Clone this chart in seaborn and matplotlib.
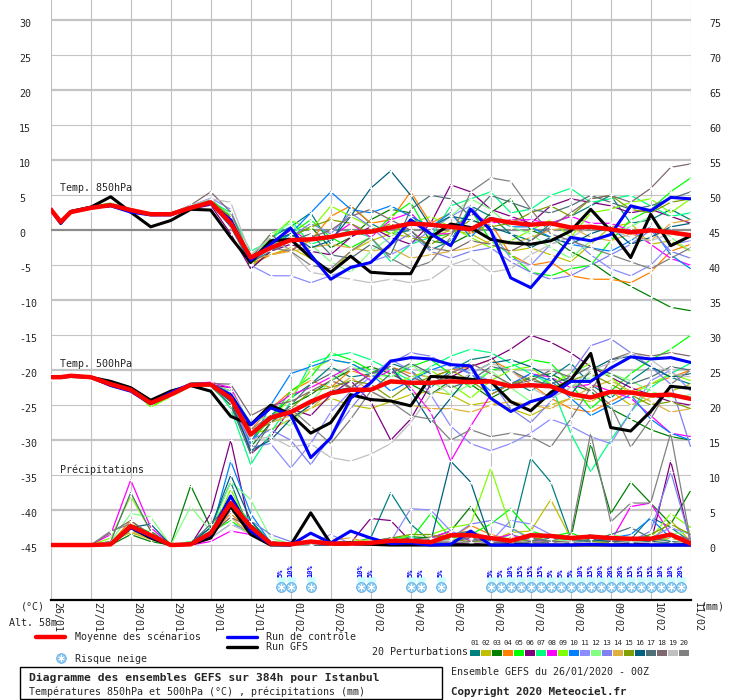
import numpy as np
import pandas as pd
import matplotlib
matplotlib.use("Agg")
import matplotlib.pyplot as plt
import matplotlib.transforms as mtransforms
from matplotlib.patches import Rectangle
from matplotlib.lines import Line2D
import seaborn as sns

# forecast hours (run 26/01/2020 00Z)
hours = [0, 6, 12, 24, 36, 48, 60, 72, 84, 96, 108, 120, 132, 144, 156, 168, 180,
         192, 204, 216, 228, 240, 252, 264, 276, 288, 300, 312, 324, 336, 348, 360, 372, 384]
day_hours = [0, 24, 48, 72, 96, 120, 144, 168, 192, 216, 240, 264, 288, 312, 336, 360, 384]
days = ["26/01", "27/01", "28/01", "29/01", "30/01", "31/01", "01/02", "02/02", "03/02",
        "04/02", "05/02", "06/02", "07/02", "08/02", "09/02", "10/02", "11/02"]

member_ids = ["01", "02", "03", "04", "05", "06", "07", "08", "09", "10",
              "11", "12", "13", "14", "15", "16", "17", "18", "19", "20"]
member_colors = ["#008080", "#c0c000", "#008000", "#ff8000", "#00ff00", "#800080", "#00ff80",
                 "#ff00ff", "#80ff00", "#0080ff", "#8c8cff", "#80ff80", "#8080f0", "#e0b040",
                 "#80a000", "#006080", "#507078", "#806870", "#c0c0c0", "#808080"]

# ---- 850 hPa temperature (C)
mean_850 = [3.0, 1.2, 2.6, 3.2, 3.6, 2.9, 2.3, 2.3, 3.2, 4.0, 1.0,
            -3.9, -2.5, -1.4, -1.3, -0.95, -0.4, -0.2, 0.4, 0.95, 0.8, 0.5, 0.15,
            1.6, 1.1, 0.8, 1.0, 0.4, 0.5, 0.15, -0.3, 0.0, -0.3, -0.7]
ctrl_850 = [3.0, 1.0, 2.6, 3.3, 3.5, 2.6, 2.2, 2.2, 3.3, 3.8, 1.5,
            -4.3, -2.0, 0.3, -3.5, -7.0, -5.3, -4.6, -2.0, 1.5, -0.5, -2.2, 3.0,
            0.0, -6.8, -8.2, -4.9, -1.0, -1.5, -0.6, 3.5, 2.8, 4.7, 4.5]
gfs_850 = [3.0, 1.0, 2.7, 3.3, 4.8, 2.6, 0.5, 1.4, 3.0, 2.9, -1.0,
           -4.6, -1.5, -1.3, -3.9, -6.0, -3.7, -6.0, -6.2, -6.2, -1.0, 0.9, 0.4,
           -1.3, -1.8, -2.0, -1.5, -0.1, 3.0, -0.1, -3.9, 2.3, -2.2, -0.8]
t850_01 = [2.8, 1.1, 2.5, 3.4, 3.5, 2.6, 2.2, 2.5, 3.4, 4.2, 1.8, -4.5, -1.0, 0.5, 2.5, -2.0, 3.5, 1.0, -0.5, 0.0, -2.8, -1.5, 3.5, 2.0, -0.5, -1.5, 1.0, 2.0, 3.5, 5.0, 1.0, 1.5, 3.0, 1.5]
t850_02 = [3.2, 1.3, 2.7, 3.0, 3.8, 2.8, 2.4, 2.4, 3.0, 3.9, 0.5, -5.0, -3.5, -2.5, -4.0, -6.0, -3.0, -1.5, -0.5, -1.0, -1.0, 0.0, -0.5, -2.0, -3.0, -2.5, -3.5, -4.5, -2.0, 0.5, 1.0, -2.0, -1.5, -3.0]
t850_03 = [3.0, 1.0, 2.4, 3.3, 3.4, 2.7, 2.1, 2.3, 3.3, 4.4, 2.0, -5.5, -3.0, -1.0, 0.5, -2.5, -1.0, 1.5, 3.0, 2.5, -1.5, -2.0, -0.5, 2.5, 4.5, 0.0, -1.0, -3.0, -4.5, -6.5, -8.0, -9.5, -11.0, -11.5]
t850_04 = [2.9, 1.2, 2.6, 3.1, 3.7, 3.0, 2.3, 2.2, 3.2, 4.1, 1.2, -4.8, -3.5, -2.8, -1.5, 2.0, 3.5, 1.0, 1.5, 5.5, 1.0, 2.5, -0.5, 1.0, -3.5, -5.0, -4.5, -6.5, -7.0, -7.0, -7.5, -6.0, -3.0, -2.0]
t850_05 = [3.1, 1.4, 2.8, 3.4, 3.9, 3.0, 2.2, 2.4, 3.5, 4.5, 1.5, -5.0, -2.0, -0.5, 1.5, -1.0, -2.5, -1.0, 2.0, 4.0, -1.0, -0.5, 3.0, -1.5, -3.5, -6.0, -6.5, -5.5, -5.0, -1.5, 1.5, 3.0, 5.5, 7.5]
t850_06 = [2.9, 1.1, 2.5, 3.2, 3.4, 2.8, 2.5, 2.3, 3.0, 3.6, -0.5, -5.5, -3.0, -2.0, -3.0, -3.5, -1.0, 0.5, -1.0, -2.0, 1.0, 6.5, 5.5, 3.0, 2.0, 1.0, 3.5, 4.5, 4.0, 3.5, 2.5, 3.0, 2.0, 1.0]
t850_07 = [3.0, 1.2, 2.6, 3.3, 3.6, 3.1, 2.4, 2.5, 3.4, 4.2, 2.5, -3.0, -1.5, 1.5, -2.0, -1.0, 0.0, -1.0, -4.5, -2.0, -1.0, 3.5, 4.5, 5.5, 2.5, 3.0, 5.0, 6.0, 4.0, 4.5, 5.0, 3.5, 2.0, 2.5]
t850_08 = [3.1, 1.3, 2.7, 3.4, 3.5, 2.9, 2.3, 2.4, 3.1, 4.3, 0.8, -4.5, -2.0, 0.0, -1.5, -1.0, 1.0, -1.0, 1.5, 2.5, -0.5, -0.5, 2.5, 1.0, 1.5, 1.5, 1.0, 2.0, 1.0, 1.0, 0.0, -2.0, -4.0, -5.0]
t850_09 = [3.2, 1.3, 2.7, 3.1, 3.7, 2.8, 2.2, 2.4, 3.3, 4.0, 1.3, -4.6, -1.0, 1.5, 0.0, 3.5, 2.0, 0.5, -0.5, 1.0, 2.0, 0.5, -1.0, -2.5, -1.5, 0.0, 1.5, -1.0, 2.5, 3.0, 4.0, 4.5, 2.5, 4.5]
t850_10 = [2.8, 1.0, 2.5, 3.2, 3.5, 2.7, 2.3, 2.2, 3.2, 3.8, 0.5, -4.7, -2.5, -0.5, 2.5, 5.5, 3.0, 2.5, 3.5, 2.0, 0.5, 2.5, -1.0, 2.0, 0.5, 0.5, -1.0, -2.0, -2.5, -3.0, -1.5, 0.5, -3.5, -5.5]
t850_11 = [3.0, 1.2, 2.6, 3.3, 3.6, 2.9, 2.4, 2.3, 3.5, 4.6, 3.0, -5.0, -6.5, -6.5, -7.5, -6.5, -5.5, -4.5, -3.5, -2.0, 0.0, 2.0, 3.5, 0.0, -4.0, -5.0, -2.0, -1.0, -3.5, -5.5, -6.5, -5.0, -2.0, -1.5]
t850_12 = [3.1, 1.2, 2.6, 3.2, 3.6, 2.9, 2.3, 2.4, 3.2, 4.1, 2.2, -3.8, -0.5, 1.0, -2.0, -4.5, -6.0, -3.0, -1.0, 1.5, 0.5, 2.0, 4.5, 3.0, 0.5, -0.5, -2.5, -4.0, -1.5, -0.5, 0.5, 2.0, -1.0, -3.0]
t850_13 = [2.9, 1.1, 2.5, 3.1, 3.5, 2.8, 2.2, 2.3, 3.1, 3.9, 0.8, -4.4, -2.5, -1.0, 1.0, -0.5, 2.5, 0.5, -2.0, -0.5, -3.0, -4.0, -3.0, -2.5, -4.5, -6.0, -7.0, -6.5, -5.0, -3.5, -2.0, 0.0, -3.0, -4.0]
t850_14 = [3.0, 1.3, 2.7, 3.3, 3.7, 3.0, 2.4, 2.3, 3.3, 4.2, 1.6, -4.2, -3.5, -3.0, -2.5, -2.0, -2.5, -3.0, -2.5, -4.0, -3.5, -3.0, -2.5, -1.5, -2.0, -1.0, 0.0, 0.5, -1.0, -1.5, -0.5, -1.5, 1.0, 1.5]
t850_15 = [3.1, 1.2, 2.6, 3.2, 3.6, 2.9, 2.3, 2.4, 3.4, 4.3, 1.9, -4.8, -2.0, -1.0, 0.5, 1.5, 1.0, -0.5, 1.0, -1.0, -2.0, -0.5, 1.5, 0.5, 1.0, 2.5, 3.5, 2.0, 4.5, 5.0, 3.0, 2.5, 4.0, 4.5]
t850_16 = [3.0, 1.1, 2.5, 3.3, 3.5, 2.7, 2.2, 2.4, 3.2, 4.0, 1.0, -4.0, -1.5, -0.5, -2.5, -1.5, 2.0, 6.0, 8.5, 5.0, 0.5, 2.0, 1.5, 0.5, -0.5, -2.5, -1.0, -2.0, -0.5, 0.5, -2.0, -1.0, 0.5, 1.0]
t850_17 = [2.9, 1.2, 2.6, 3.2, 3.6, 2.8, 2.3, 2.3, 3.3, 4.1, 1.1, -4.6, -3.0, -1.5, -0.5, -3.5, -4.0, -2.0, -3.5, 3.0, 5.0, 4.5, 2.0, 5.0, 4.0, 3.0, 2.5, 3.5, 5.0, 4.0, 3.0, 3.5, 4.5, 5.5]
t850_18 = [3.0, 1.3, 2.7, 3.2, 3.7, 3.0, 2.4, 2.4, 3.6, 5.5, 2.6, -4.0, -0.5, -3.0, -1.0, 0.0, 2.0, 3.0, 1.5, 0.0, -2.5, -3.0, -1.5, -2.0, -3.0, -1.5, 0.5, 2.5, 4.5, 5.0, 4.0, 6.0, 9.0, 9.5]
t850_19 = [3.1, 1.2, 2.6, 3.1, 3.6, 2.9, 2.3, 2.3, 3.6, 4.5, 4.0, -3.5, -1.0, -3.0, -6.0, -6.5, -7.0, -7.5, -7.0, -7.5, -7.0, -5.0, -4.0, -6.0, -5.5, -3.5, -2.0, -1.0, 0.5, 0.0, -1.0, -1.5, -0.5, -1.0]
t850_20 = [3.0, 1.2, 2.6, 3.3, 3.5, 2.8, 2.3, 2.3, 3.2, 4.0, 1.2, -4.4, -2.5, -3.0, -5.0, -5.5, -3.0, -1.0, -4.0, -5.5, -4.5, -1.0, 5.5, 7.5, 7.0, 3.0, -0.5, -1.5, -2.5, -3.5, -4.5, -5.5, -4.0, -2.5]

# ---- 500 hPa temperature (C)
mean_500 = [-21.0, -21.0, -20.8, -21.0, -22.0, -22.8, -24.7, -23.5, -22.1, -22.05, -24.0,
            -29.2, -26.8, -26.0, -24.5, -23.3, -22.8, -22.8, -21.6, -21.8, -21.8, -21.6, -21.7,
            -21.6, -22.3, -22.15, -22.3, -23.4, -23.9, -23.1, -23.2, -23.6, -23.5, -24.1]
ctrl_500 = [-21.0, -21.0, -20.8, -21.0, -22.2, -23.0, -24.8, -23.2, -22.0, -22.0, -23.5,
            -27.8, -25.4, -26.4, -32.5, -29.7, -24.0, -21.8, -18.7, -18.2, -18.4, -19.2, -19.4,
            -24.0, -25.9, -24.5, -23.7, -21.6, -21.6, -19.7, -18.1, -18.4, -18.2, -18.9]
gfs_500 = [-21.0, -21.0, -20.9, -21.0, -21.6, -22.5, -24.3, -23.0, -22.2, -23.0, -26.6,
           -27.8, -25.0, -26.3, -29.0, -27.5, -23.5, -24.2, -24.4, -25.1, -20.9, -21.0, -21.3,
           -21.6, -24.5, -25.8, -23.2, -21.4, -17.6, -28.2, -28.7, -25.9, -22.3, -22.6]
t500_01 = [-21.2, -20.9, -20.7, -21.1, -22.3, -23.0, -24.5, -23.4, -22.0, -22.2, -24.5, -30.5, -26.5, -24.0, -22.0, -19.5, -21.0, -20.5, -19.0, -20.0, -22.5, -20.0, -18.5, -18.0, -21.5, -23.0, -21.0, -19.0, -22.0, -24.0, -21.5, -19.5, -21.0, -22.0]
t500_02 = [-21.0, -21.1, -20.9, -21.0, -21.8, -22.6, -24.9, -23.6, -22.2, -22.0, -23.5, -29.0, -28.5, -27.0, -25.5, -24.0, -25.0, -25.5, -24.5, -23.5, -23.0, -23.5, -25.0, -24.5, -25.5, -26.5, -25.0, -24.0, -24.5, -23.0, -25.0, -24.0, -23.0, -22.0]
t500_03 = [-21.1, -20.9, -20.8, -21.2, -22.1, -22.9, -24.6, -23.3, -22.1, -22.3, -25.0, -31.0, -27.5, -25.0, -23.5, -21.5, -20.0, -19.5, -20.5, -22.0, -23.5, -21.5, -22.0, -24.0, -22.5, -21.0, -20.5, -22.0, -23.0, -25.5, -27.0, -28.5, -29.5, -30.0]
t500_04 = [-20.9, -21.0, -20.7, -20.9, -21.9, -22.7, -24.8, -23.5, -22.0, -21.9, -23.0, -28.5, -25.5, -23.0, -21.5, -22.5, -20.0, -21.0, -19.5, -20.5, -21.0, -20.0, -19.5, -18.5, -20.0, -22.0, -24.0, -25.5, -26.0, -24.5, -23.0, -22.0, -21.0, -20.0]
t500_05 = [-21.0, -21.0, -20.8, -21.0, -22.1, -22.8, -25.2, -23.7, -21.8, -21.8, -24.0, -30.0, -27.0, -23.0, -21.0, -17.5, -18.5, -20.0, -21.0, -19.5, -18.5, -20.5, -22.5, -20.0, -19.5, -18.5, -19.0, -22.0, -25.5, -23.0, -20.5, -18.5, -17.0, -15.0]
t500_06 = [-21.1, -21.0, -20.8, -21.1, -22.0, -22.9, -24.7, -23.5, -22.2, -22.1, -22.5, -32.0, -29.5, -25.5, -26.5, -23.5, -21.5, -24.5, -30.0, -27.0, -22.0, -21.0, -19.5, -18.5, -17.0, -15.0, -16.0, -17.5, -19.5, -21.0, -22.5, -23.5, -24.5, -25.0]
t500_07 = [-20.9, -21.0, -20.7, -21.0, -21.9, -22.7, -24.6, -23.4, -21.9, -21.8, -25.5, -33.5, -29.0, -24.5, -19.0, -18.0, -17.5, -18.5, -20.0, -21.5, -19.5, -18.0, -17.0, -17.5, -19.0, -20.5, -22.0, -29.0, -34.5, -30.0, -26.0, -22.5, -20.5, -19.0]
t500_08 = [-21.0, -21.1, -20.9, -21.0, -22.0, -22.8, -24.6, -23.6, -22.0, -21.7, -22.5, -28.0, -25.5, -23.5, -22.5, -21.0, -19.5, -21.5, -20.0, -22.5, -26.0, -33.0, -28.0, -23.5, -22.0, -20.5, -21.0, -22.5, -22.0, -23.0, -24.0, -26.5, -29.0, -29.5]
t500_09 = [-21.1, -21.0, -20.9, -21.1, -22.1, -22.5, -25.3, -23.8, -22.3, -22.2, -24.0, -29.5, -27.0, -24.0, -20.0, -18.5, -19.0, -20.5, -22.0, -21.0, -20.0, -22.0, -24.0, -21.5, -20.0, -19.5, -22.0, -20.5, -19.0, -21.0, -23.5, -22.0, -20.5, -21.5]
t500_10 = [-21.0, -20.9, -20.8, -21.0, -22.2, -23.1, -24.9, -23.6, -22.1, -22.0, -23.0, -30.5, -25.0, -20.5, -19.5, -18.5, -19.0, -20.5, -23.0, -21.5, -20.0, -19.0, -20.5, -23.0, -22.0, -20.5, -21.5, -24.0, -26.5, -25.0, -23.5, -27.0, -29.0, -30.0]
t500_11 = [-21.0, -21.0, -20.8, -21.0, -21.9, -22.7, -24.5, -23.4, -22.1, -22.0, -24.0, -31.0, -30.5, -34.0, -30.5, -26.0, -23.0, -21.0, -18.5, -20.0, -23.5, -28.0, -30.5, -31.5, -30.5, -29.0, -27.0, -28.0, -29.5, -30.5, -26.0, -21.5, -20.0, -23.0]
t500_12 = [-21.1, -21.0, -20.8, -21.0, -22.0, -22.8, -24.7, -23.5, -22.1, -22.0, -23.0, -27.5, -26.5, -28.0, -24.5, -21.5, -19.5, -20.5, -21.0, -19.0, -21.5, -23.5, -22.0, -20.0, -22.5, -24.5, -24.0, -22.5, -21.0, -20.5, -21.5, -23.0, -24.0, -23.5]
t500_13 = [-20.9, -21.0, -20.8, -21.0, -22.0, -22.8, -24.8, -23.4, -22.0, -22.0, -24.5, -30.0, -28.5, -30.0, -33.5, -29.5, -25.5, -22.0, -19.0, -17.5, -18.0, -19.5, -20.5, -21.5, -25.5, -27.5, -24.5, -20.5, -16.5, -15.5, -17.5, -19.5, -22.0, -31.0]
t500_14 = [-21.0, -21.0, -20.8, -21.0, -22.0, -22.8, -24.7, -23.5, -22.0, -22.0, -23.5, -28.5, -27.5, -26.5, -25.5, -23.0, -21.0, -23.0, -24.5, -25.0, -25.5, -25.5, -26.0, -25.0, -24.5, -25.0, -25.5, -24.0, -22.5, -21.5, -23.0, -24.5, -26.0, -25.5]
t500_15 = [-21.0, -21.0, -20.8, -21.0, -22.1, -22.9, -24.8, -23.6, -22.1, -22.1, -24.0, -29.0, -27.5, -25.5, -23.0, -22.5, -21.5, -22.0, -24.0, -22.0, -21.0, -20.0, -21.5, -23.5, -22.0, -21.0, -22.5, -21.5, -20.5, -22.0, -23.5, -25.0, -24.5, -25.5]
t500_16 = [-21.0, -21.0, -20.8, -21.0, -22.2, -23.0, -24.5, -23.3, -22.0, -22.0, -24.5, -31.5, -30.0, -27.0, -25.0, -23.0, -22.5, -20.5, -19.5, -23.0, -27.5, -24.0, -20.5, -19.0, -18.5, -19.5, -21.0, -23.5, -20.0, -18.5, -18.0, -19.5, -21.0, -20.5]
t500_17 = [-21.0, -21.0, -20.8, -21.0, -22.0, -22.8, -24.6, -23.5, -22.0, -22.1, -25.0, -32.0, -27.5, -25.0, -22.0, -20.5, -22.5, -23.0, -20.5, -19.0, -20.5, -22.5, -21.5, -19.5, -20.0, -21.5, -22.0, -21.0, -19.5, -20.5, -22.0, -21.0, -19.5, -20.0]
t500_18 = [-21.0, -21.0, -20.8, -21.0, -22.0, -22.8, -24.7, -23.5, -22.0, -21.9, -22.0, -26.5, -25.0, -24.5, -23.0, -21.5, -22.5, -20.5, -19.5, -21.0, -22.0, -20.5, -19.0, -20.5, -22.0, -21.5, -20.0, -21.0, -23.0, -18.5, -17.5, -18.0, -17.5, -18.0]
t500_19 = [-21.0, -21.0, -20.8, -21.0, -22.0, -22.8, -24.7, -23.5, -22.0, -22.0, -24.0, -30.0, -29.5, -31.0, -30.5, -32.5, -33.0, -32.0, -30.5, -27.5, -23.5, -22.0, -20.5, -19.0, -20.0, -22.5, -24.0, -22.5, -20.0, -19.0, -17.5, -18.5, -20.5, -21.0]
t500_20 = [-21.0, -21.0, -20.8, -21.0, -22.0, -22.8, -24.6, -23.5, -22.0, -22.0, -23.5, -28.5, -26.5, -25.5, -28.0, -30.5, -27.0, -23.0, -24.5, -26.5, -27.0, -30.0, -28.5, -29.5, -29.0, -29.5, -31.0, -27.0, -22.5, -25.0, -31.0, -27.0, -22.0, -20.0]

# ---- precipitation (mm)
mean_rr = [0, 0, 0, 0, 0.1, 2.7, 1.4, 0, 0.1, 1.7, 6.0,
           2.6, 0.2, 0.1, 0.5, 0.2, 0.2, 0.3, 0.6, 0.6, 0.4, 1.4, 1.4,
           1.0, 0.6, 1.4, 1.3, 1.0, 1.2, 1.0, 0.9, 0.9, 1.5, 0.2]
ctrl_rr = [0, 0, 0, 0, 0.1, 2.5, 1.2, 0, 0.1, 1.5, 7.0,
           2.0, 0.1, 0, 1.7, 0.3, 2.0, 1.0, 0.2, 0.3, 0, 0.1, 2.0,
           0, 0, 0, 0, 0, 0.1, 0, 0, 0, 0, 0]
gfs_rr = [0, 0, 0, 0, 0.1, 2.5, 1.0, 0, 0.1, 1.0, 5.5,
          1.5, 0, 0, 4.6, 0.2, 0.3, 0.1, 0, 0, 0, 0, 0,
          0, 0, 0, 0, 0, 0, 0, 0, 0, 0, 0]
rr_01 = [0, 0, 0, 0, 0.2, 2.0, 1.5, 0, 0.3, 2.5, 9.0, 1.5, 0, 0, 0.2, 0.5, 0.3, 1.0, 7.5, 3.0, 0.5, 0.3, 0.2, 0.5, 0.8, 12.4, 9.0, 1.0, 0.5, 0.3, 0.8, 4.0, 2.5, 0.5]
rr_02 = [0, 0, 0, 0, 0.5, 1.8, 0.8, 0, 0, 1.0, 5.0, 2.5, 0.2, 0, 0, 0.3, 0.5, 0, 0.2, 0.8, 1.2, 1.5, 1.0, 0.5, 1.8, 2.0, 6.5, 1.0, 0.5, 0.3, 0.2, 0.5, 3.5, 0.5]
rr_03 = [0, 0, 0, 0, 0, 1.5, 0.5, 0, 8.5, 2.5, 7.0, 3.0, 0.5, 0, 0, 0.2, 0, 0, 0.5, 1.2, 1.0, 2.0, 5.5, 1.0, 0.5, 0.5, 1.5, 0.8, 14.5, 4.5, 9.0, 6.0, 3.0, 7.8]
rr_04 = [0, 0, 0, 0, 0.3, 3.5, 1.2, 0, 0.2, 1.5, 4.5, 2.0, 0.3, 0, 0.5, 0, 0, 0, 0.1, 0.3, 0.5, 1.0, 2.8, 1.5, 0.8, 1.2, 0.5, 0.3, 0.2, 0.5, 0.3, 0.2, 0, 0]
rr_05 = [0, 0, 0, 0, 0.4, 3.0, 1.8, 0, 0.3, 1.8, 3.5, 1.5, 0.5, 0.2, 0, 0, 0, 0.5, 0.3, 0.8, 4.5, 1.0, 1.5, 3.0, 5.2, 2.0, 1.2, 1.8, 0.5, 0.3, 0.2, 0.5, 1.0, 0.4]
rr_06 = [0, 0, 0, 0, 0.2, 2.5, 1.0, 0, 0, 4.5, 15.0, 2.0, 0.2, 0, 0, 0.5, 0.3, 3.8, 3.5, 0.5, 0, 0.2, 0.3, 0, 0.2, 0.3, 0.5, 0.5, 0.2, 0, 0.3, 0.2, 12.0, 0.3]
rr_07 = [0, 0, 0, 0, 0.3, 2.2, 1.0, 0, 0.5, 2.0, 6.0, 3.5, 0.4, 0, 0, 0.2, 0, 0.5, 1.0, 1.2, 0.5, 0.8, 1.0, 0.5, 1.5, 0.8, 0.5, 0.3, 0.2, 0.5, 0.8, 1.5, 0.5, 0.2]
rr_08 = [0, 0, 0, 0, 1.5, 9.3, 2.5, 0, 0, 0.5, 2.0, 1.5, 0, 0, 0, 0, 0.2, 0, 0, 0.5, 1.0, 2.0, 0.5, 0.8, 1.5, 0.5, 0.3, 0.5, 1.0, 0.5, 5.5, 6.0, 1.5, 0.8]
rr_09 = [0, 0, 0, 0, 1.0, 7.0, 2.0, 0, 0.4, 1.2, 8.0, 2.0, 0.3, 0, 0.3, 0, 0.5, 0.8, 0.3, 1.5, 1.5, 2.5, 3.0, 11.0, 2.5, 1.0, 0.5, 1.0, 0.8, 0.5, 0.3, 1.0, 4.5, 2.5]
rr_10 = [0, 0, 0, 0, 0.2, 2.8, 1.5, 0, 0, 1.5, 12.0, 4.5, 0.3, 0, 0, 0.4, 0.2, 0, 0.5, 0.3, 0.5, 1.5, 0.8, 0.3, 0.5, 1.0, 0.5, 0.3, 0.5, 1.0, 1.5, 3.8, 1.0, 0.5]
rr_11 = [0, 0, 0, 0, 0.5, 2.5, 1.5, 0, 0, 1.0, 3.0, 2.0, 0.5, 0, 0, 1.5, 0.2, 0, 0.5, 5.2, 5.0, 2.0, 1.0, 0.5, 3.5, 3.0, 1.5, 1.0, 0.5, 0.3, 0.8, 1.0, 2.5, 1.5]
rr_12 = [0, 0, 0, 0, 0.5, 4.5, 4.0, 0, 5.5, 2.0, 9.0, 6.5, 1.0, 0.2, 0, 0.3, 0.5, 0, 0.5, 1.0, 0.5, 0.8, 1.5, 1.0, 0.8, 0.5, 1.0, 0.5, 0.8, 1.5, 1.0, 0.5, 1.5, 2.0]
rr_13 = [0, 0, 0, 0, 0.3, 2.2, 1.0, 0, 0.3, 1.0, 5.0, 3.5, 1.5, 0.5, 0, 0.2, 0, 0.2, 0.5, 0.8, 0.5, 1.0, 3.0, 3.5, 2.5, 0.8, 0.5, 0.3, 0.2, 0.5, 0.5, 2.0, 10.5, 0.5]
rr_14 = [0, 0, 0, 0, 0.5, 2.0, 0.8, 0, 0, 1.5, 4.0, 1.5, 0.2, 0, 0.5, 0.8, 1.0, 0.3, 1.0, 0.5, 0.3, 1.5, 2.0, 1.0, 0.5, 0.3, 0.5, 0.2, 0.3, 0.5, 0.8, 0.5, 1.0, 0.3]
rr_15 = [0, 0, 0, 0, 0.3, 3.0, 1.5, 0, 0.2, 1.8, 7.0, 2.5, 0.4, 0, 0, 0.2, 0.4, 0.5, 1.0, 1.5, 1.5, 0.8, 0.5, 0.5, 1.0, 0.5, 1.5, 0.8, 0.5, 0.3, 0.5, 1.5, 3.0, 1.5]
rr_16 = [0, 0, 0, 0, 0.2, 2.5, 3.0, 0, 0.3, 2.5, 10.0, 3.5, 0.2, 0, 0, 0, 0, 0, 0.5, 0.3, 0.5, 12.0, 9.0, 0.5, 0.3, 0.2, 0.5, 0.3, 0.8, 0.5, 0.3, 0.5, 0.3, 0.2]
rr_17 = [0, 0, 0, 0, 0.5, 7.5, 2.0, 0, 0.2, 3.0, 6.0, 1.8, 0.3, 0, 0.2, 0.3, 0.5, 0.2, 0.5, 1.0, 0.8, 1.5, 2.0, 0.5, 0.3, 0.5, 1.0, 0.8, 0.5, 1.5, 2.5, 1.0, 0.5, 0.3]
rr_18 = [0, 0, 0, 0, 1.8, 3.5, 1.5, 0, 0.3, 1.5, 4.0, 2.5, 0.5, 0, 0, 0.2, 0.3, 0.5, 1.0, 0.5, 0.3, 0.5, 1.0, 0.3, 0.5, 1.0, 0.5, 0.5, 1.5, 0.5, 1.0, 0.5, 1.5, 0.8]
rr_19 = [0, 0, 0, 0, 0.4, 2.5, 1.5, 0, 0.1, 1.0, 3.0, 1.5, 0.3, 0, 0, 0.5, 0.3, 0, 0.2, 0.5, 1.0, 0.5, 0.3, 0.5, 0.8, 0.3, 0.2, 0.5, 0.3, 0.2, 0.5, 0.3, 0.2, 0.5]
rr_20 = [0, 0, 0, 0, 2.0, 3.0, 1.0, 0, 0.2, 2.0, 5.0, 2.5, 0.5, 0, 0.3, 0.5, 0, 0.3, 0.5, 0.8, 0.5, 0.3, 0.5, 1.0, 0.5, 0.3, 0.5, 1.5, 16.0, 3.3, 6.0, 6.0, 16.0, 0.5]

# ---- snow risk
snow_hours = [138, 144, 156, 186, 192, 216, 222, 234,
              264, 270, 276, 282, 288, 294, 300, 306, 312, 318, 324, 330,
              336, 342, 348, 354, 360, 366, 372, 378]
snow_pct = [5, 10, 10, 10, 5, 5, 5, 5,
            5, 5, 10, 15, 15, 15, 5, 5, 5, 10, 15, 20, 20, 20, 15, 15, 15, 10, 10, 20]

t850_members = [t850_01, t850_02, t850_03, t850_04, t850_05, t850_06, t850_07, t850_08, t850_09, t850_10,
                t850_11, t850_12, t850_13, t850_14, t850_15, t850_16, t850_17, t850_18, t850_19, t850_20]
t500_members = [t500_01, t500_02, t500_03, t500_04, t500_05, t500_06, t500_07, t500_08, t500_09, t500_10,
                t500_11, t500_12, t500_13, t500_14, t500_15, t500_16, t500_17, t500_18, t500_19, t500_20]
rr_members = [rr_01, rr_02, rr_03, rr_04, rr_05, rr_06, rr_07, rr_08, rr_09, rr_10,
              rr_11, rr_12, rr_13, rr_14, rr_15, rr_16, rr_17, rr_18, rr_19, rr_20]

for s in t850_members + t500_members + rr_members:
    assert len(s) == len(hours)


def long_frame(members):
    rows = []
    for name, vals in zip(member_ids, members):
        for h, v in zip(hours, vals):
            rows.append((h, v, name))
    return pd.DataFrame(rows, columns=["hour", "value", "member"])


W, H = 740, 700
def fx(x):
    return x / W
def fy(y):
    return 1 - y / H


sns.set_style("white")
plt.rcParams["font.family"] = ["DejaVu Sans Mono"]
plt.rcParams["font.size"] = 7.2

fig = plt.figure(figsize=(7.4, 7.0), dpi=100)
ax = fig.add_axes([fx(50.7), fy(600), (690.7 - 50.7) / W, 600 / H])
ax_p = ax.twinx()

ylo, yhi = -52.86, 32.93
ax.set_xlim(0, 384)
ax.set_ylim(ylo, yhi)
ax_p.set_ylim(ylo + 45, yhi + 45)

# grid
for v in range(-45, 31, 5):
    if v == 0:
        ax.axhline(v, color="#8c8c8c", lw=1.6, zorder=0.6)
    else:
        ax.axhline(v, color="#c4c4c4", lw=1.6 if v % 10 == 0 else 0.8, zorder=0.5)
for h in day_hours:
    ax.axvline(h, color="#c0c0c0", lw=0.8, zorder=0.5)

pert_kw = dict(hue="member", hue_order=member_ids, palette=member_colors, estimator=None,
               marker="+", markersize=3.5, markeredgewidth=0.8, linewidth=0.9, legend=False)

# temperatures
for members, mean_s, ctrl_s, gfs_s in [(t850_members, mean_850, ctrl_850, gfs_850),
                                        (t500_members, mean_500, ctrl_500, gfs_500)]:
    sns.lineplot(data=long_frame(members), x="hour", y="value", ax=ax, zorder=2, **pert_kw)
    sns.lineplot(x=hours, y=gfs_s, color="black", linewidth=2.2, ax=ax, zorder=4)
    sns.lineplot(x=hours, y=ctrl_s, color="#0000ff", linewidth=2.2, ax=ax, zorder=5)
    sns.lineplot(x=hours, y=mean_s, color="#ff0000", linewidth=3.2, ax=ax, zorder=6)

# precipitation on the mm scale
sns.lineplot(data=long_frame(rr_members), x="hour", y="value", ax=ax_p, zorder=2, **pert_kw)
sns.lineplot(x=hours, y=gfs_rr, color="black", linewidth=2.2, ax=ax_p, zorder=4)
sns.lineplot(x=hours, y=ctrl_rr, color="#0000ff", linewidth=2.2, ax=ax_p, zorder=5)
sns.lineplot(x=hours, y=mean_rr, color="#ff0000", linewidth=3.2, ax=ax_p, zorder=6)

# panel titles
ax.text(5.6, 6.0, "Temp. 850hPa", ha="left", va="center", fontsize=7.2, zorder=7)
ax.text(5.6, -19.1, "Temp. 500hPa", ha="left", va="center", fontsize=7.2, zorder=7)
ax.text(5.6, -34.3, "Précipitations", ha="left", va="center", fontsize=7.2, zorder=7)

# snow risk row
n = len(snow_hours)
ax.bar(snow_hours, [1.0] * n, bottom=-50.45, width=6, color="#ccffff", zorder=2)
ax.scatter(snow_hours, [-51.0] * n, s=52, color="#8ccaf2", edgecolors="#5fa6dc",
           linewidths=0.5, zorder=3)
ax.scatter(snow_hours, [-51.0] * n, s=24, marker=(6, 2, 0), color="white",
           linewidths=0.6, zorder=4)
for h, p in zip(snow_hours, snow_pct):
    ax.text(h, -49.5, f"{p}%", rotation=90, ha="center", va="bottom", color="#0000ff",
            fontsize=5, fontweight="bold", zorder=5)

# axes / ticks
for a in (ax, ax_p):
    for s in ("left", "right", "top"):
        a.spines[s].set_visible(False)
ax_p.spines["bottom"].set_visible(False)
ax.spines["bottom"].set_color("black")
ax.spines["bottom"].set_linewidth(1.6)
ax.set_xlabel("")
ax.set_ylabel("")
ax_p.set_ylabel("")

ax.set_yticks(range(-45, 31, 5))
ax.set_yticklabels([str(v) for v in range(-45, 31, 5)])
ax.tick_params(axis="y", length=0, pad=22.8, labelsize=7.2)
down = mtransforms.ScaledTranslation(0, -2.5 / 100, fig.dpi_scale_trans)
for lbl in ax.get_yticklabels():
    lbl.set_horizontalalignment("left")
    lbl.set_transform(lbl.get_transform() + down)

ax_p.set_yticks(range(0, 76, 5))
ax_p.set_yticklabels([str(v) for v in range(0, 76, 5)])
ax_p.tick_params(axis="y", length=0, pad=13.2, labelsize=7.2)
for lbl in ax_p.get_yticklabels():
    lbl.set_transform(lbl.get_transform() + down)

ax.set_xticks(day_hours)
ax.set_xticklabels(days, rotation=-90, ha="center", va="top", fontsize=7.2)
ax.tick_params(axis="x", length=0, pad=1.5)
right = mtransforms.ScaledTranslation(7 / 100, 0, fig.dpi_scale_trans)
for lbl in ax.get_xticklabels():
    lbl.set_transform(lbl.get_transform() + right)

fig.text(fx(21), fy(606.5), "(°C)", va="center", ha="left")
fig.text(fx(9), fy(623), "Alt. 58m", va="center", ha="left")
fig.text(fx(701), fy(606.5), "(mm)", va="center", ha="left")

# legend
fig.add_artist(Line2D([fx(36), fx(65)], [fy(637), fy(637)], color="#ff0000", lw=3.2))
fig.text(fx(75), fy(637), "Moyenne des scénarios", va="center")
fig.add_artist(Line2D([fx(227), fx(257)], [fy(637), fy(637)], color="#0000ff", lw=2.4))
fig.text(fx(266), fy(637), "Run de contrôle", va="center")
fig.add_artist(Line2D([fx(227), fx(257)], [fy(647), fy(647)], color="black", lw=2.4))
fig.text(fx(266), fy(647), "Run GFS", va="center")
fig.add_artist(Line2D([fx(61)], [fy(657.5)], marker="o", ms=7, color="#8ccaf2",
                      mec="#5fa6dc", mew=0.5))
fig.add_artist(Line2D([fx(61)], [fy(657.5)], marker=(6, 2, 0), ms=4.5, color="white", mew=0.6))
fig.text(fx(75), fy(659), "Risque neige", va="center")
fig.text(fx(372), fy(652), "20 Perturbations", va="center")
for k, (mid, col) in enumerate(zip(member_ids, member_colors)):
    fig.add_artist(Rectangle((fx(470 + 11 * k), fy(655.5)), 10 / W, 6 / H,
                             transform=fig.transFigure, color=col, lw=0))
    fig.text(fx(475 + 11 * k), fy(643), mid, ha="center", va="center", fontsize=5.3)

fig.add_artist(Rectangle((fx(20), fy(699)), 422 / W, 32 / H, transform=fig.transFigure,
                         fill=False, ec="black", lw=1))
fig.text(fx(29), fy(677.5), "Diagramme des ensembles GEFS sur 384h pour Istanbul",
         va="center", fontsize=8.2, fontweight="bold")
fig.text(fx(29), fy(692), "Températures 850hPa et 500hPa (°C) , précipitations (mm)",
         va="center", fontsize=7.2)
fig.text(fx(451), fy(672.5), "Ensemble GEFS du 26/01/2020 - 00Z", va="center", fontsize=7.2)
fig.text(fx(451), fy(692), "Copyright 2020 Meteociel.fr", va="center", fontsize=7.8,
         fontweight="bold")

fig.savefig("out.png", dpi=100, facecolor="white")
